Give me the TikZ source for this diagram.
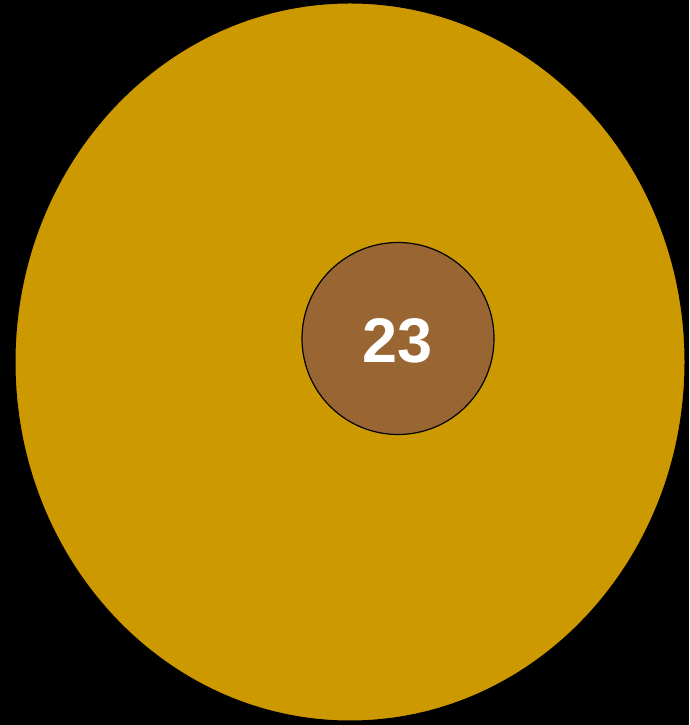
\documentclass[tikz,border=0pt]{standalone}
\usepackage{fontspec}
\setmainfont{Liberation Sans}
\definecolor{gold}{HTML}{CC9900}
\definecolor{brownc}{HTML}{996633}
\tikzset{
  outer/.style={ellipse, fill=gold, draw=black, line width=1pt, minimum width=670pt, minimum height=718pt, inner sep=0pt},
  inner/.style={circle, fill=brownc, draw=black, line width=1.2pt, minimum size=192pt, inner sep=0pt},
  label/.style={text=white, font=\fontsize{63}{70}\selectfont\bfseries, inner sep=0pt}
}
\usetikzlibrary{shapes.geometric}
\begin{document}
\begin{tikzpicture}[x=1pt,y=1pt]
\fill[black] (0,0) rectangle (689,725);
\useasboundingbox (0,0) rectangle (689,725);
\node[outer] (big) at (350,363) {};
\node[inner] (small) at (398,386.5) {};
\node[label] (num) at (398,384) {23};
\end{tikzpicture}
\end{document}
